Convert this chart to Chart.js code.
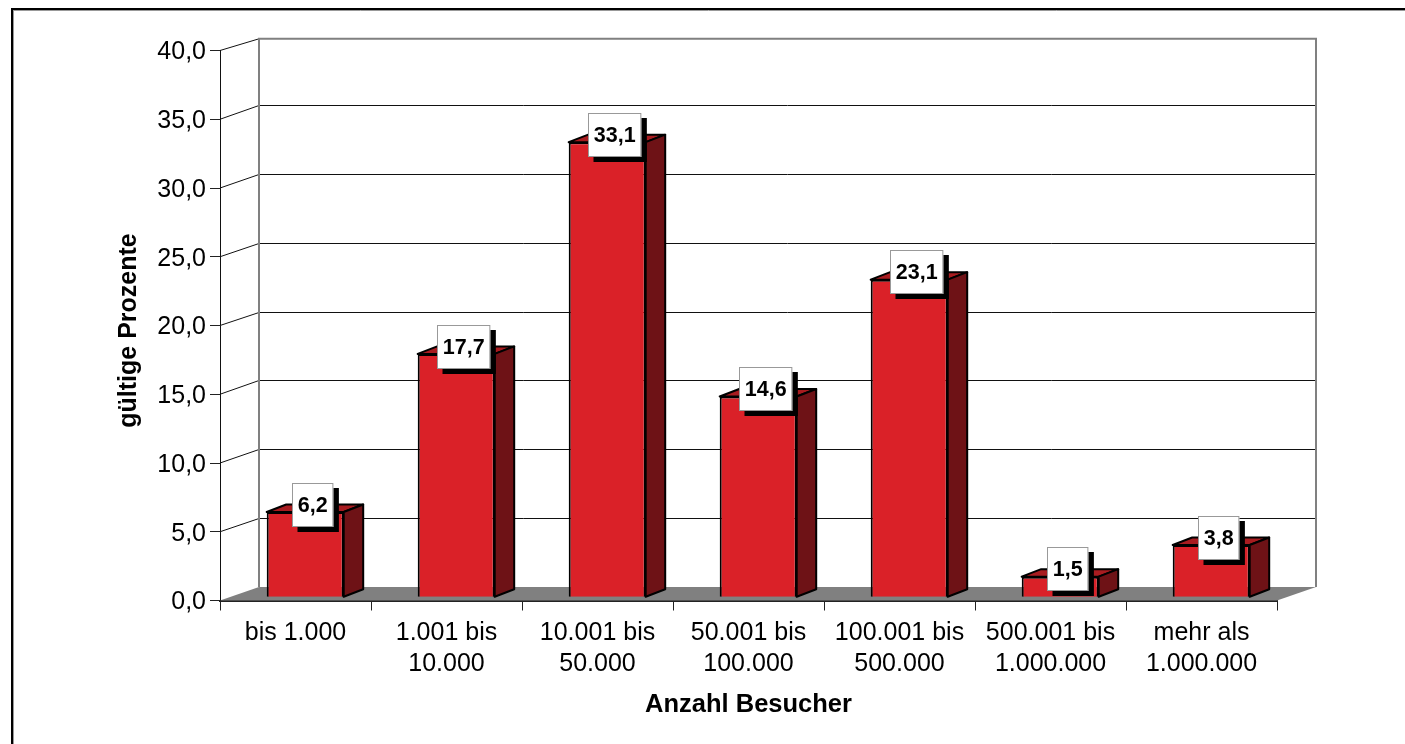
<!DOCTYPE html>
<html><head><meta charset="utf-8">
<script src="https://cdn.jsdelivr.net/npm/chart.js@4"></script>
<style>html,body{margin:0;padding:0;background:#fff}canvas{display:block}</style>
</head><body><canvas id="c" width="1405" height="744"></canvas>
<script>
const categories=[["bis 1.000"],["1.001 bis","10.000"],["10.001 bis","50.000"],["50.001 bis","100.000"],["100.001 bis","500.000"],["500.001 bis","1.000.000"],["mehr als","1.000.000"]];
const values=[6.2,17.7,33.1,14.6,23.1,1.5,3.8];
const yAxisTitle="gültige Prozente";
const xAxisTitle="Anzahl Besucher";
const fmt=v=>v.toFixed(1).replace('.',',');
const WALL={dx:39,dy:13.5,topDy:11.7};
const BAR={ox:9.7,oy:3.2,dx:19.5,dy:7.5};
const snap=v=>Math.round(v-0.5)+0.5;
const threeD={id:'threeD',
 beforeDraw(ch){
  const s=ch.scales.y;
  if(!s.$shifted){
   // centre the digits of the y tick labels on their tick marks, and nudge the axis title
   s.getLabelItems(ch.chartArea).forEach(i=>{i.options.translation[1]+=2;});
   const orig=s.drawTitle;
   s.drawTitle=function(){const c=ch.ctx;c.save();c.translate(1,5);orig.call(this);c.restore();};
   s.$shifted=true;
  }
 },
 beforeDatasetsDraw(ch){
  const c=ch.ctx,a=ch.chartArea,y=ch.scales.y;c.save();
  const y0=y.getPixelForValue(0),bx=a.left+WALL.dx,rx=a.right+WALL.dx,by=y0-WALL.dy;
  c.fillStyle='#808080';c.beginPath();c.moveTo(a.left,y0);c.lineTo(bx,by);c.lineTo(rx,by);c.lineTo(a.right,y0);c.closePath();c.fill();
  const top=y.getPixelForValue(40)-WALL.topDy;
  y.ticks.forEach(t=>{const p=y.getPixelForValue(t.value),q=t.value===40?top:snap(p-WALL.dy);
   c.strokeStyle='#111';c.lineWidth=1;
   if(t.value>0){c.beginPath();c.moveTo(a.left,p);c.lineTo(bx,q);c.stroke();}
   if(t.value>0&&t.value<40){c.beginPath();c.moveTo(bx,q);c.lineTo(rx,q);c.stroke();}
  });
  c.strokeStyle='#808080';c.lineWidth=2;c.beginPath();c.moveTo(bx,by);c.lineTo(bx,top);c.lineTo(rx,top);c.lineTo(rx,by);c.stroke();
  c.restore();
  c.save();c.translate(BAR.ox,-BAR.oy);
  ch.getDatasetMeta(0).data.forEach(b=>{
   const l=b.x-b.width/2,r=b.x+b.width/2,t=b.y,bt=b.base;
   c.lineWidth=2;c.strokeStyle='#000';c.lineJoin='round';
   c.fillStyle='#A81C20';c.beginPath();c.moveTo(l,t);c.lineTo(l+BAR.dx,t-BAR.dy);c.lineTo(r+BAR.dx,t-BAR.dy);c.lineTo(r,t);c.closePath();c.fill();c.stroke();
   c.fillStyle='#6E1216';c.beginPath();c.moveTo(r,t);c.lineTo(r+BAR.dx,t-BAR.dy);c.lineTo(r+BAR.dx,bt-BAR.dy);c.lineTo(r,bt);c.closePath();c.fill();c.stroke();
  });
 },
 afterDatasetsDraw(ch){
  const c=ch.ctx;c.restore();c.save();
  c.font='bold 21.5px "Liberation Sans"';c.textAlign='center';c.textBaseline='middle';
  ch.getDatasetMeta(0).data.forEach((b,i)=>{
   const s=fmt(values[i]),w=c.measureText(s).width+11.5,h=44,cx=b.x+BAR.ox+7.2,cy=b.y-BAR.oy-7.2;
   const x0=Math.round(cx-w/2),y0=Math.round(cy-h/2);
   c.fillStyle='#000';c.fillRect(x0+5.5,y0+5,w,h);
   c.fillStyle='#fff';c.fillRect(x0,y0,w,h);
   c.strokeStyle='#999';c.lineWidth=1;c.strokeRect(x0+.5,y0+.5,w-1,h-1);
   c.fillStyle='#000';c.fillText(s,x0+w/2,y0+h/2+1);
  });
  c.restore();
 },
 afterDraw(ch){const c=ch.ctx;c.save();
  c.strokeStyle='#999';c.lineWidth=1;c.beginPath();c.moveTo(12,10.5);c.lineTo(1405,10.5);c.moveTo(13.5,10);c.lineTo(13.5,744);c.stroke();
  c.strokeStyle='#000';c.lineWidth=2;c.beginPath();c.moveTo(12,744);c.lineTo(12,9);c.lineTo(1405,9);c.stroke();
  c.restore();}
};
new Chart(document.getElementById('c'),{type:'bar',
 data:{labels:categories,datasets:[{data:values,backgroundColor:'#DA2128',borderColor:'#000',borderWidth:2,barPercentage:0.51,categoryPercentage:1}]},
 plugins:[threeD],
 options:{responsive:false,animation:false,clip:false,
  layout:{padding:{left:113,top:50.5,right:128,bottom:24}},
  plugins:{legend:{display:false},tooltip:{enabled:false},title:{display:false}},
  scales:{
   x:{afterFit(s){s.height=744-600.5-24;},
    grid:{display:true,drawOnChartArea:false,drawTicks:true,tickLength:10,color:'#222'},
    border:{display:true,color:'#222',width:2},
    ticks:{color:'#000',font:{family:'"Liberation Sans"',size:25,lineHeight:1.24},maxRotation:0,autoSkip:false,padding:7},
    title:{display:true,text:xAxisTitle,color:'#000',font:{family:'"Liberation Sans"',size:25.5,weight:'bold'},padding:0}},
   y:{min:0,max:40,afterFit(s){s.width=220-113;},
    grid:{display:true,drawOnChartArea:false,drawTicks:true,tickLength:10,color:'#222'},
    border:{display:true,color:'#111',width:1},
    ticks:{stepSize:5,color:'#000',font:{family:'"Liberation Sans"',size:25},padding:4,callback:v=>fmt(v)},
    title:{display:true,text:yAxisTitle,color:'#000',font:{family:'"Liberation Sans"',size:25,weight:'bold'},padding:0}}
  }}});
</script></body></html>
